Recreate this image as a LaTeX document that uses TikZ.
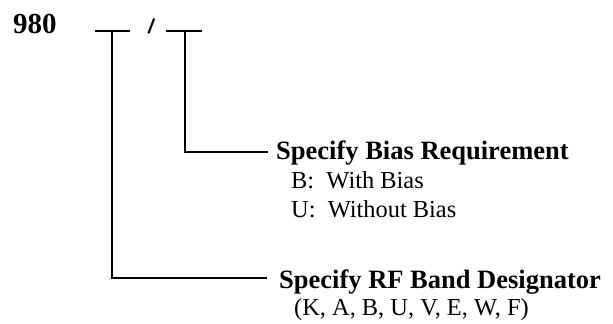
\documentclass[tikz,border=0pt]{standalone}
\usepackage{fontspec}
\setmainfont{Liberation Serif}
\newfontfamily\slashfont{Liberation Sans}
\usetikzlibrary{positioning}
\tikzset{head/.style={anchor=base west,inner sep=0pt,font=\fontsize{13.25}{15}\selectfont\bfseries},
  item/.style={anchor=base west,inner sep=0pt,font=\fontsize{12.2}{14}\selectfont},
  sep/.style={inner sep=0pt,font=\slashfont\fontsize{10}{11}\selectfont\bfseries\itshape}}

\begin{document}
\begin{tikzpicture}[x=0.5pt, y=-0.5pt, line width=1.2pt]
\useasboundingbox (0,0) rectangle (613,323);
    % part number and the two blanks
    \node[head,font=\fontsize{14.5}{16}\selectfont\bfseries] (pn) at (12,33) {980};
    \node[sep] (slash) at (151,26) {/};
    \coordinate (b1l) at (95,31);
    \coordinate (b1r) at (130,31);
    \coordinate (b1) at (112,31);
    \coordinate (b2l) at (166,31);
    \coordinate (b2r) at (202,31);
    \coordinate (b2) at (185,31);
    % descriptions
    \node[head] (bias) at (275,159) {Specify Bias Requirement};
    \node[item] (with) at (290,188) {B:\ \ With Bias};
    \node[item] (without) at (290,217) {U:\ \ Without Bias};
    \node[head] (band) at (278,288) {Specify RF Band Designator};
    \node[item] (bandlist) at (293,315) {(K, A, B, U, V, E, W, F)};
    \coordinate (e2) at (268,152);
    \coordinate (e1) at (267,278);
    % leaders
    \draw (b1l) -- (b1r);
    \draw (b2l) -- (b2r);
    \draw (b1) |- (e1);
    \draw (b2) |- (e2);
\end{tikzpicture}
\end{document}
